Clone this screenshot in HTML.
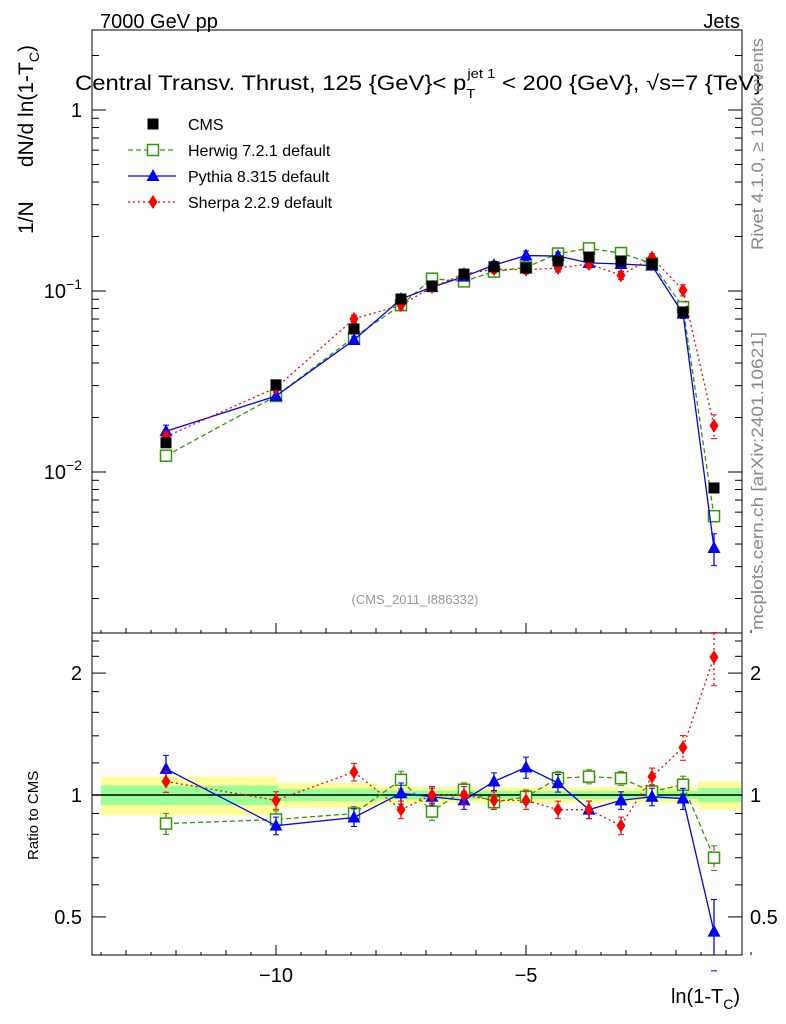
<!DOCTYPE html>
<html><head><meta charset="utf-8">
<style>
html,body{margin:0;padding:0;background:#fff;}
svg{display:block;font-family:"Liberation Sans",sans-serif;}
</style></head>
<body>
<svg id="c" width="786" height="1024" viewBox="0 0 786 1024" xmlns="http://www.w3.org/2000/svg"></svg>
<script>
// ---- data ----
const xs = [-12.2,-10,-8.44,-7.5,-6.88,-6.24,-5.64,-5,-4.36,-3.74,-3.1,-2.48,-1.86,-1.24];
const cms = [0.0145,0.0303,0.0617,0.0903,0.1066,0.124,0.136,0.134,0.1465,0.154,0.1465,0.141,0.0766,0.00816];
const herwig = [0.0123,0.0263,0.0555,0.0835,0.117,0.113,0.128,0.135,0.161,0.172,0.162,0.142,0.0815,0.0057];
const pythia = [0.0168,0.0263,0.0536,0.0903,0.105,0.120,0.139,0.157,0.156,0.143,0.141,0.138,0.075,0.0038];
const sherpa = [0.0157,0.0292,0.0702,0.0835,0.105,0.124,0.132,0.131,0.134,0.141,0.122,0.153,0.101,0.0180];
const herwigR = [0.85,0.87,0.90,1.09,0.91,1.03,0.96,0.99,1.10,1.11,1.10,1.02,1.06,0.70];
const pythiaR = [1.16,0.84,0.88,1.01,0.99,0.97,1.08,1.17,1.07,0.92,0.97,0.99,0.98,0.46];
const sherpaR = [1.08,0.97,1.14,0.92,1.00,1.00,0.97,0.97,0.92,0.92,0.84,1.11,1.31,2.19];
const herwigE = [0.06,0.05,0.04,0.05,0.05,0.04,0.04,0.04,0.04,0.04,0.04,0.04,0.05,0.07];
const pythiaE = [0.08,0.05,0.05,0.06,0.05,0.05,0.05,0.06,0.05,0.05,0.05,0.05,0.06,0.20];
const sherpaE = [0.06,0.05,0.05,0.05,0.05,0.05,0.05,0.05,0.05,0.05,0.05,0.05,0.07,0.15];
const bandEdges = [-13.5,-9.96,-8.94,-7.96,-7.2,-6.56,-5.94,-5.32,-4.68,-4.06,-3.42,-2.8,-2.17,-1.56,-0.7];
const bandY = [0.11,0.07,0.07,0.05,0.045,0.045,0.045,0.045,0.045,0.045,0.045,0.045,0.045,0.08];
const bandG = [0.055,0.035,0.035,0.025,0.025,0.025,0.022,0.022,0.022,0.022,0.022,0.022,0.022,0.04];
const xTicks = [-10,-5];
const yTicks = [1,0.1,0.01];
const rTicks = [2,1,0.5];

// ---- geometry ----
const L=92,R=742,T=30,MB=633,RB=955;
const X=v=>776+v*50;
const Y=v=>110-181*Math.log10(v);
const YR=v=>795-405*Math.log10(v);
const svg=document.getElementById('c');
const NS='http://www.w3.org/2000/svg';
function el(tag,attrs,parent){const e=document.createElementNS(NS,tag);for(const k in attrs)e.setAttribute(k,attrs[k]);(parent||svg).appendChild(e);return e;}
function txt(s,attrs,parent){const e=el('text',attrs,parent);e.textContent=s;return e;}

// bands
const gb=el('g',{});


for(let i=0;i<bandY.length;i++){
  const x0=X(bandEdges[i]),x1=X(bandEdges[i+1]);
  el('rect',{x:x0,y:YR(1+bandY[i]),width:x1-x0,height:YR(1-bandY[i])-YR(1+bandY[i]),fill:'#ffff99'},gb);
  el('rect',{x:x0,y:YR(1+bandG[i]),width:x1-x0,height:YR(1-bandG[i])-YR(1+bandG[i]),fill:'#99ff99'},gb);
}
el('line',{x1:L,x2:R,y1:YR(1),y2:YR(1),stroke:'#000','stroke-width':1.5});

// frames
const f1=el('rect',{x:L,y:T,width:R-L,height:MB-T,fill:'none',stroke:'#000','stroke-width':1});

const f2=el('rect',{x:L,y:MB,width:R-L,height:RB-MB,fill:'none',stroke:'#000','stroke-width':1});


// x ticks (bottom of each panel)
for(let k=-27;k<=-1;k++){
  const v=k/2; const big=(v%5===0), unit=Number.isInteger(v);
  const len=big?10:(unit?5:3);
  for(const bot of [MB,RB]) el('line',{x1:X(v),x2:X(v),y1:bot,y2:bot-len,stroke:'#000'});
}
xTicks.forEach(v=>{const t=txt('\u2212'+Math.abs(v),{x:X(v),y:982,'font-size':20,'text-anchor':'middle'});
});
// y ticks main (log)
for(let d=-3;d<=0;d++){for(let m=1;m<=9;m++){const v=m*Math.pow(10,d);const y=Y(v);if(y<T||y>MB)continue;
 const len=m===1?14:7;el('line',{x1:L,x2:L+len,y1:y,y2:y,stroke:'#000'});el('line',{x1:R,x2:R-len,y1:y,y2:y,stroke:'#000'});}}
yTicks.forEach(v=>{const y=Y(v);let g;
 if(v===1){g=txt('1',{x:82,y:y+7,'font-size':20,'text-anchor':'end'});}
 else{g=el('text',{x:82,y:y+7,'font-size':20,'text-anchor':'end'});g.innerHTML='10<tspan dy="-9" font-size="14">\u2212'+(-Math.round(Math.log10(v)))+'</tspan>';}
 });
// ratio ticks
for(let m=4;m<=25;m++){const v=m/10;if(v>1 && (m%2)) continue; const y=YR(v);if(y<MB||y>RB)continue;
 const big=[0.5,1,2].includes(v);const len=big?14:7;
 el('line',{x1:L,x2:L+len,y1:y,y2:y,stroke:'#000'});el('line',{x1:R,x2:R-len,y1:y,y2:y,stroke:'#000'});}
rTicks.forEach(v=>{const y=YR(v);
 const a=txt(String(v),{x:82,y:y+7,'font-size':20,'text-anchor':'end'});
 const b=txt(String(v),{x:750,y:y+7,'font-size':20});});

// series
function series(name,vals,color,dash,marker,errs,yf,clip){
 const g=el('g',{});
 
 
 if(dash!==null){
  const pts=xs.map((x,i)=>X(x)+','+yf(vals[i])).join(' ');
  el('polyline',{points:pts,fill:'none',stroke:color,'stroke-width':1.3,'stroke-dasharray':dash},g);
 }
 xs.forEach((x,i)=>{
  const cx=X(x),cy=yf(vals[i]);
  if(errs){const up=yf(vals[i]*(1+errs[i])),dn=yf(vals[i]*(1-errs[i]));
   el('line',{x1:cx,x2:cx,y1:Math.max(up,clip[0]),y2:Math.min(dn,clip[1]),stroke:color,'stroke-width':1.3,'stroke-dasharray':dash||''},g);
   el('line',{x1:cx-3,x2:cx+3,y1:up,y2:up,stroke:color},g);el('line',{x1:cx-3,x2:cx+3,y1:dn,y2:dn,stroke:color},g);}
  if(cy<clip[0]-3||cy>clip[1]+3)return;
  marker(cx,cy,g);
 });
}
const mSq=c=>(x,y,g)=>el('rect',{x:x-5.5,y:y-5.5,width:11,height:11,fill:'#fff',stroke:c,'stroke-width':1.5},g);
const mTri=(x,y,g)=>el('polygon',{points:`${x},${y-7} ${x-6.5},${y+5} ${x+6.5},${y+5}`,fill:'#0000ff'},g);
const mDia=(x,y,g)=>el('polygon',{points:`${x},${y-7} ${x-4.5},${y} ${x},${y+7} ${x+4.5},${y}`,fill:'#ff0000'},g);
const mBox=(x,y,g)=>el('rect',{x:x-5.5,y:y-5.5,width:11,height:11,fill:'#000'},g);
const mainClip=[T,MB],rClip=[MB,RB];
series('herwig-line',herwig,'#339900','5,3',mSq('#339900'),herwigE,Y,mainClip);
series('pythia-line',pythia,'#0000ff','',mTri,pythiaE,Y,mainClip);
series('sherpa-line',sherpa,'#ff0000','2,3',mDia,sherpaE,Y,mainClip);
series('cms-data',cms,'#000',null,mBox,null,Y,mainClip);
series('herwig-ratio',herwigR,'#339900','5,3',mSq('#339900'),herwigE,YR,rClip);
series('pythia-ratio',pythiaR,'#0000ff','',mTri,pythiaE,YR,rClip);
series('sherpa-ratio',sherpaR,'#ff0000','2,3',mDia,sherpaE,YR,rClip);

// legend
const lg=el('g',{});
const items=[['CMS','#000',null,mBox],['Herwig 7.2.1 default','#339900','5,3',mSq('#339900')],['Pythia 8.315 default','#0000ff','',mTri],['Sherpa 2.2.9 default','#ff0000','2,3',mDia]];
items.forEach((it,i)=>{const y=124+i*26;const e=el('g',{},lg);
 
 if(it[2]!==null)el('line',{x1:128,x2:176,y1:y,y2:y,stroke:it[1],'stroke-width':1.3,'stroke-dasharray':it[2]},e);
 it[3](153,y,e);
 txt(it[0],{x:188,y:y+6,'font-size':16},e);});

// texts
function T2(s,a,name){const t=txt(s,a);return t;}
T2('7000 GeV pp',{x:100,y:28,'font-size':20},'energy-label');
T2('Jets',{x:740,y:28,'font-size':20,'text-anchor':'end'},'process-label');
const ti=el('text',{x:75,y:90,'font-size':21,textLength:687,lengthAdjust:'spacingAndGlyphs'});
ti.innerHTML='Central Transv. Thrust, 125 {GeV}&lt; p<tspan dy="8" font-size="13">T</tspan><tspan dy="-20" font-size="13" dx="-7">jet 1</tspan><tspan dy="12"> &lt; 200 {GeV}, \u221As=7 {TeV}</tspan>';

T2('1/N',{transform:'translate(33,234) rotate(-90)','font-size':21},'y-axis-title-norm');
const yl=el('text',{transform:'translate(33,45) rotate(-90)','font-size':21,'text-anchor':'end'});
yl.innerHTML='dN/d ln(1-T<tspan dy="6" font-size="14">C</tspan><tspan dy="-6">)</tspan>';

T2('Ratio to CMS',{transform:'translate(38,860) rotate(-90)','font-size':15},'ratio-axis-title');
const xl=el('text',{x:740,y:1003,'font-size':20,'text-anchor':'end'});
xl.innerHTML='ln(1-T<tspan dy="6" font-size="14">C</tspan><tspan dy="-6">)</tspan>';

T2('(CMS_2011_I886332)',{x:415,y:604,'font-size':13,'text-anchor':'middle',fill:'#999'},'analysis-id');
T2('Rivet 4.1.0, \u2265 100k events',{transform:'translate(763,250) rotate(-90)','font-size':17,fill:'#888',textLength:212,lengthAdjust:'spacingAndGlyphs'},'rivet-label');
T2('mcplots.cern.ch [arXiv:2401.10621]',{transform:'translate(763,630) rotate(-90)','font-size':17,fill:'#888',textLength:298,lengthAdjust:'spacingAndGlyphs'},'mcplots-label');
</script>
</body></html>
